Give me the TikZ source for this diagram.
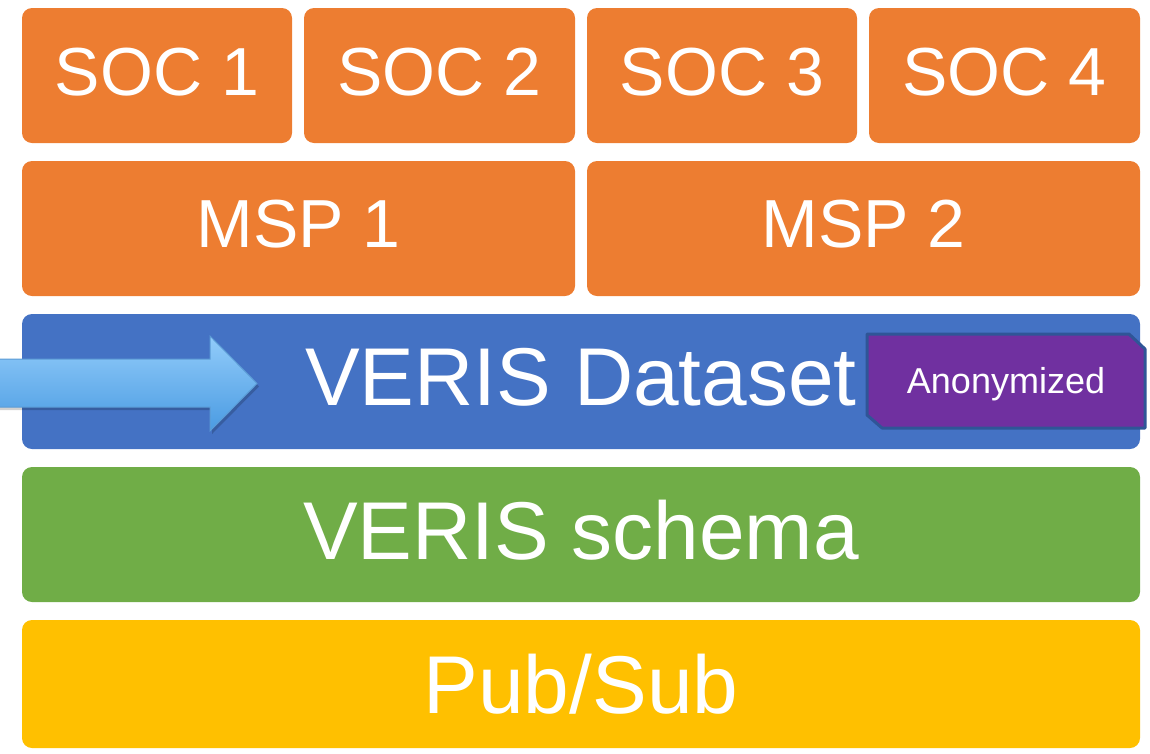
\documentclass[tikz,border=0pt]{standalone}
\usepackage{fontspec}
\setmainfont{Liberation Sans}
\definecolor{cOrange}{HTML}{ED7D31}
\definecolor{cBlue}{HTML}{4472C4}
\definecolor{cGreen}{HTML}{70AD47}
\definecolor{cYellow}{HTML}{FFC000}
\definecolor{cPurple}{HTML}{7030A0}
\definecolor{cBorder}{HTML}{2F5597}
\definecolor{arrTop}{HTML}{92CCFA}
\definecolor{arrBot}{HTML}{4A9BE2}
\definecolor{arrLine}{HTML}{5B9BD5}
\newcommand{\upby}[2]{\raisebox{#1}[\height][\depth]{#2}}
\begin{document}
\begin{tikzpicture}[x=1pt,y=1pt,
  layerbox/.style={rounded corners=10pt, inner sep=0pt, outer sep=0pt, anchor=north west,
    text=white, minimum height=135pt},
  smallfont/.style={font=\fontsize{68}{72}\selectfont},
  bigfont/.style={font=\fontsize{82}{86}\selectfont}]
\useasboundingbox (0,0) rectangle (1150,-753);
% SOC row
\node[layerbox, smallfont, fill=cOrange, minimum width=270pt] (soc1) at (22,-8) {\upby{3pt}{SOC 1}};
\node[layerbox, smallfont, fill=cOrange, minimum width=271pt] (soc2) at (304,-8) {\upby{3pt}{SOC 2}};
\node[layerbox, smallfont, fill=cOrange, minimum width=270pt] (soc3) at (587,-8) {\upby{3pt}{SOC 3}};
\node[layerbox, smallfont, fill=cOrange, minimum width=271pt] (soc4) at (869,-8) {\upby{3pt}{SOC 4}};
% MSP row
\node[layerbox, smallfont, fill=cOrange, minimum width=553pt] (msp1) at (22,-161) {\upby{4pt}{MSP 1}};
\node[layerbox, smallfont, fill=cOrange, minimum width=553pt] (msp2) at (587,-161) {\upby{4pt}{MSP 2}};
% VERIS dataset
\node[layerbox, bigfont, fill=cBlue, minimum width=1118pt] (data) at (22,-314) {\upby{4pt}{VERIS Dataset}};
% VERIS schema
\node[layerbox, bigfont, fill=cGreen, minimum width=1118pt] (schema) at (22,-467) {\upby{4pt}{VERIS schema}};
% Pub/Sub
\node[layerbox, bigfont, fill=cYellow, minimum width=1118pt, minimum height=128pt] (pubsub) at (22,-620) {Pub/Sub};
% Anonymized tag
\node[inner sep=0pt, outer sep=0pt, minimum width=278pt, minimum height=94pt, anchor=north west] (anon) at (867,-334) {};
\coordinate (a1) at (anon.north west);
\coordinate (a2) at ([xshift=-16pt]anon.north east);
\coordinate (a3) at ([yshift=-15pt]anon.north east);
\coordinate (a4) at (anon.south east);
\coordinate (a5) at ([xshift=15pt]anon.south west);
\coordinate (a6) at ([yshift=13pt]anon.south west);
\draw[line width=3pt, cBorder, fill=cPurple, line join=round] (a1) -- (a2) -- (a3) -- (a4) -- (a5) -- (a6) -- cycle;
\node[text=white, font=\fontsize{36}{40}\selectfont] (anontext) at ([yshift=-3pt]anon.center) {Anonymized};
% Arrow
\coordinate (p1) at (-2,-359);
\coordinate (p2) at (210,-359);
\coordinate (p3) at (210,-336);
\coordinate (p4) at (257,-383.5);
\coordinate (p5) at (210,-431);
\coordinate (p6) at (210,-407);
\coordinate (p7) at (-2,-407);
\fill[black, opacity=0.18] ([shift={(2,-3)}]p1) -- ([shift={(2,-3)}]p2) -- ([shift={(2,-3)}]p3) -- ([shift={(2,-3)}]p4) -- ([shift={(2,-3)}]p5) -- ([shift={(2,-3)}]p6) -- ([shift={(2,-3)}]p7) -- cycle;
\draw[arrLine, line width=1pt, top color=arrTop, bottom color=arrBot] (p1) -- (p2) -- (p3) -- (p4) -- (p5) -- (p6) -- (p7) -- cycle;
\end{tikzpicture}
\end{document}
